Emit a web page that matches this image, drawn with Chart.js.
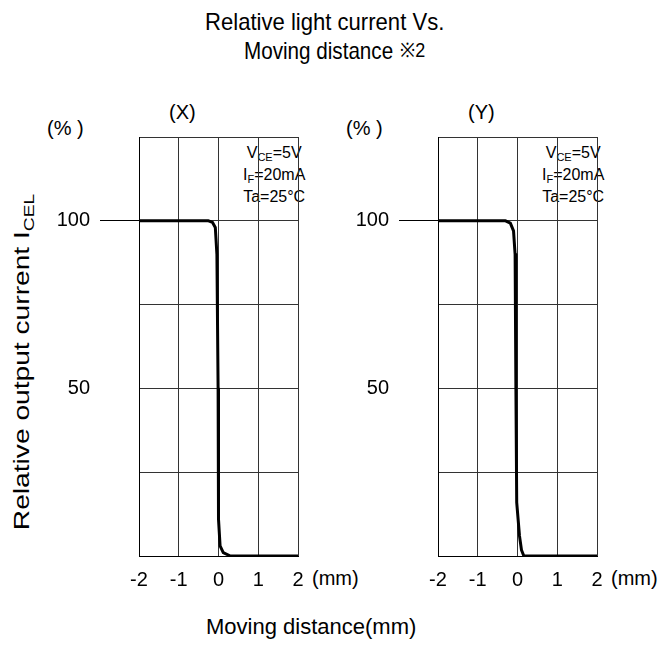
<!DOCTYPE html>
<html>
<head>
<meta charset="utf-8">
<script src="https://cdn.jsdelivr.net/npm/chart.js@4"></script>
<style>
  body { margin: 0; background: #fff; }
  #page { position: relative; width: 672px; height: 648px; font-family: "Liberation Sans", Arial, sans-serif; color: #000; }
  .t { position: absolute; white-space: nowrap; line-height: 1; }
  .ttl { font-size: 24px; transform-origin: left top; }
  .lbl { font-size: 20px; }
  .note { font-size: 16px; line-height: 22px; text-align: center; }
  .note sub { font-size: 11px; vertical-align: -3px; line-height: 0; }
  canvas { position: absolute; }
</style>
</head>
<body>
<div id="page">
  <div class="t ttl" style="left:205px; top:10px; transform: scaleX(0.92);">Relative light current Vs.</div>
  <div class="t ttl" style="left:244px; top:39px; transform: scaleX(0.86);">Moving distance</div>
  <div class="t ttl" style="left:400px; top:40px; font-size:20px; transform: scaleX(0.9);">※2</div>

  <div class="t" style="font-size:22px; left:22px; top:362px; transform: translate(-50%,-50%) rotate(-90deg) scaleX(1.28);">Relative output current I<sub style="font-size:15px; vertical-align:-5px; line-height:0;">CEL</sub></div>
  <div class="t" style="font-size:22px; left:206px; top:616px;">Moving distance(mm)</div>

  <div class="t lbl" style="left:169px; top:102px;">(X)</div>
  <div class="t lbl" style="left:47px; top:118px;">(% )</div>
  <div class="t lbl" style="left:312px; top:568px;">(mm)</div>
  <div class="t note" style="left:243px; top:142px;">V<sub>CE</sub>=5V<br>I<sub>F</sub>=20mA<br>Ta=25°C</div>

  <div class="t lbl" style="left:468px; top:102px;">(Y)</div>
  <div class="t lbl" style="left:346px; top:118px;">(% )</div>
  <div class="t lbl" style="left:611px; top:568px;">(mm)</div>
  <div class="t note" style="left:542px; top:142px;">V<sub>CE</sub>=5V<br>I<sub>F</sub>=20mA<br>Ta=25°C</div>

  <canvas id="chartX" width="330" height="530" style="left:40px; top:90px;"></canvas>
  <canvas id="chartY" width="330" height="530" style="left:339px; top:90px;"></canvas>
</div>

<script>
// Axis ranges and ticks
const xMin = -2, xMax = 2, xStep = 1;
const yMin = 0, yMax = 125, yStep = 25;
const yTickLabels = [100, 50];

// (X) direction: moving distance (mm) vs relative output current (%)
const distX = [-2, -0.25, -0.15, -0.08, -0.04, -0.01, 0.0, 0.04, 0.12, 0.3, 2];
const currentX = [100, 100, 99.5, 98, 90, 50, 11, 3, 1, 0, 0];

// (Y) direction
const distY = [-2, -0.3, -0.18, -0.1, -0.06, -0.04, -0.02, 0.05, 0.1, 0.16, 2];
const currentY = [100, 100, 99.3, 97, 90, 50, 16, 6, 1.8, 0, 0];

Chart.defaults.font.family = '"Liberation Sans", Arial, sans-serif';
Chart.defaults.color = '#000';

function makeChart(id, xs, ys) {
  const ctx = document.getElementById(id).getContext('2d');
  return new Chart(ctx, {
    type: 'line',
    data: {
      datasets: [{
        data: xs.map((x, i) => ({ x: x, y: ys[i] })),
        borderColor: '#000',
        borderWidth: 3,
        pointRadius: 0,
        tension: 0,
        borderJoinStyle: 'round',
        fill: false
      }]
    },
    options: {
      responsive: false,
      animation: false,
      devicePixelRatio: 1,
      layout: { padding: { left: 0, right: 72, top: 47, bottom: 0 } },
      plugins: { legend: { display: false }, tooltip: { enabled: false } },
      scales: {
        x: {
          type: 'linear',
          min: xMin, max: xMax,
          ticks: { stepSize: xStep, padding: 12, font: { size: 20 } },
          grid: { color: '#333', lineWidth: 1, drawTicks: false },
          border: { color: '#000', width: 1 },
          afterFit: s => { s.height = 64; }
        },
        y: {
          min: yMin, max: yMax,
          ticks: {
            stepSize: yStep, padding: 10, font: { size: 20 },
            callback: v => yTickLabels.includes(v) ? String(v) : ''
          },
          grid: {
            color: '#333', lineWidth: 1, tickLength: 39,
            tickColor: c => (c.tick && c.tick.value === 100) ? '#000' : 'rgba(0,0,0,0)'
          },
          border: { color: '#000', width: 1 },
          afterFit: s => { s.width = 99; }
        }
      }
    }
  });
}

makeChart('chartX', distX, currentX);
makeChart('chartY', distY, currentY);
</script>
</body>
</html>
